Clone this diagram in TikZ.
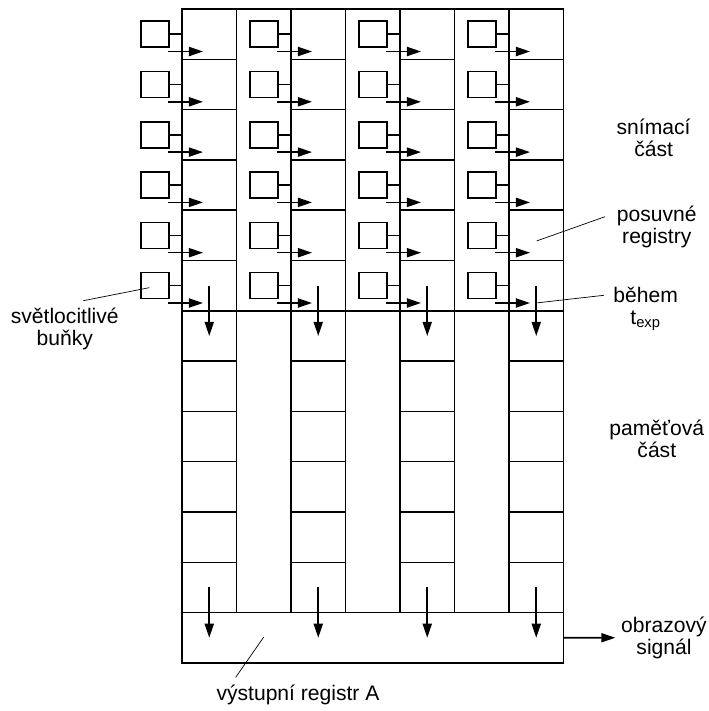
\documentclass[tikz,border=0pt]{standalone}
\usepackage{fontspec}
\setmainfont{Liberation Sans}
\usepackage{tikz}
\usetikzlibrary{arrows.meta,positioning,calc}

\tikzset{
    % register cell (shift register / storage)
    regcell/.style={
        rectangle, draw=black, minimum width=1.3625cm,
        minimum height=1.2575cm, inner sep=0pt, outer sep=0pt,
        line width=1.1pt
    },
    % photosensitive cell
    sensor/.style={
        rectangle, draw=black, minimum width=0.7cm,
        minimum height=0.65cm, inner sep=0pt, outer sep=0pt,
        line width=1.1pt
    },
    % side labels
    lab/.style={font=\fontsize{15}{15.8}\selectfont, align=center, inner sep=2pt},
}
\tikzset{
    wire/.style={line width=1.1pt},
    arc/.style={-{Triangle[length=10pt,width=6.5pt]}, line width=1.1pt},
    leader/.style={line width=0.5pt},
}

\begin{document}
\begin{tikzpicture}
  \useasboundingbox (0,0) rectangle (17.725,17.775);

  % register columns: 6 rows sensing part + 6 rows storage part
  \foreach \k in {1,...,4}{
    \foreach \r in {1,...,12}{
      \node[regcell] (c-\k-\r) at ({5.23125+(\k-1)*2.725},{17.55-(\r-0.5)*1.2575}) {};
    }
  }
  % outer frame and border between the two parts
  \draw[wire] (c-1-1.north west) rectangle (c-4-12.south east);
  \draw[wire] (c-1-6.south west) -- (c-4-6.south east);

  % output register
  \node[regcell,minimum width=9.5375cm,anchor=north west] (vystup) at (c-1-12.south west) {};

  % photosensitive cells and transfer into the registers
  \foreach \k in {1,...,4}{
    \foreach \r in {1,...,6}{
      \node[sensor,left=0.325cm of c-\k-\r] (s-\k-\r) {};
      \draw[wire] (s-\k-\r) -- (c-\k-\r);
      \draw[arc] ([shift={(-0.35,-0.434)}]c-\k-\r.west) -- ([shift={(0.525,-0.434)}]c-\k-\r.west);
    }
    % shifting down
    \draw[arc] (c-\k-6.center) -- (c-\k-7.center);
    \draw[arc] (c-\k-12.center) -- (c-\k-12.center |- vystup.center);
  }

  % labels
  \node[lab] (snim)  at (16.34,14.325) {snímací\\část};
  \node[lab] (posuv) at (16.42,12.1)     {posuvné\\registry};
  \node[lab] (behem) at (16.14,10.05)   {během\\t\textsubscript{exp}};
  \node[lab] (pamet) at (16.42,6.8)      {paměťová\\část};
  \node[lab,inner sep=4pt] (obraz) at (16.6,1.83125) {obrazový\\signál};
  \node[lab,anchor=base] (vyst) at (7.45,0.27) {výstupní registr A};
  \node[lab] (svet)  at (1.62,9.55)   {světlocitlivé\\buňky};

  % output
  \draw[arc] (vystup) -- (obraz);

  % leader lines
  \coordinate (l-svet)  at (2.0825,10.2575);
  \coordinate (l-posuv) at (15.125,12.3575);
  \coordinate (l-behem) at (15.1,10.3925);
  \coordinate (l-vyst)  at (5.8925,0.8425);
  \draw[leader] (l-svet)  -- ([shift={(-0.14,-0.05)}]s-1-6.center);
  \draw[leader] (l-posuv) -- ([shift={(0.01,-0.14)}]c-4-5.center);
  \draw[leader] (l-behem) -- ([shift={(0.026,-0.43)}]c-4-6.center);
  \draw[leader] (l-vyst)  -- ([shift={(-0.68,0.02)}]c-2-12.south west |- vystup.center);
\end{tikzpicture}
\end{document}
